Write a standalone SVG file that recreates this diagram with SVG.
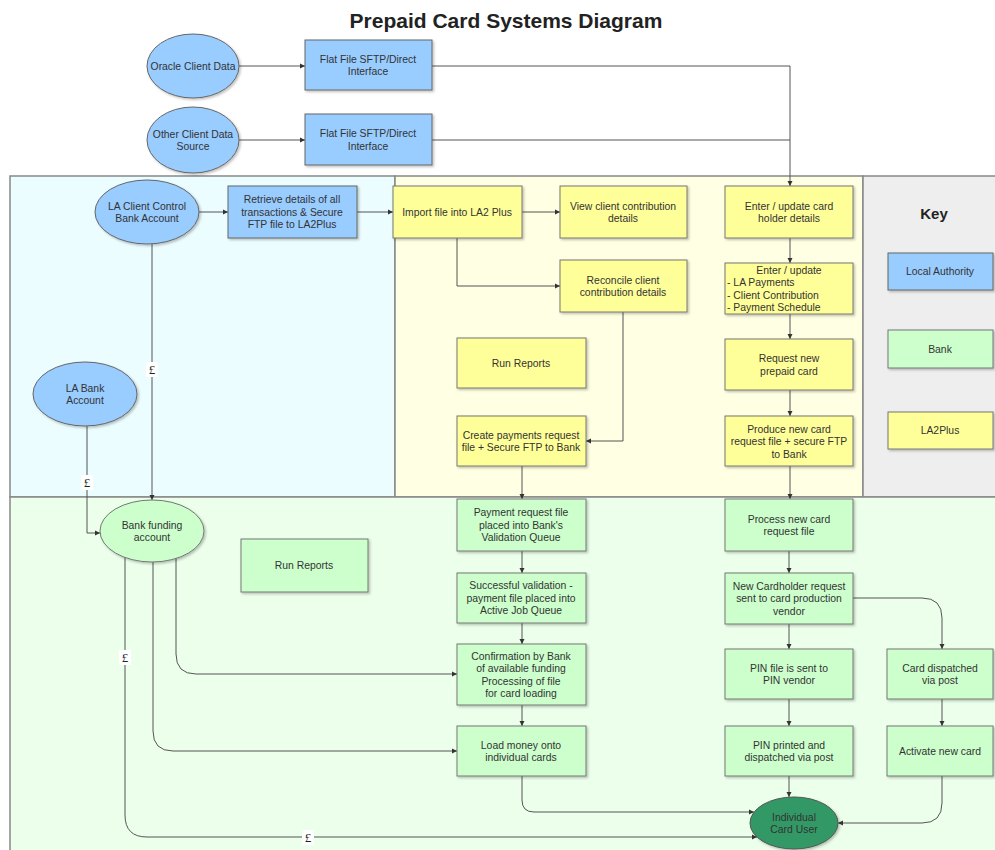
<svg xmlns="http://www.w3.org/2000/svg" width="995" height="850" viewBox="0 0 995 850">
<defs>
<marker id="ah" markerWidth="6" markerHeight="6" refX="5" refY="3" orient="auto" markerUnits="userSpaceOnUse">
<path d="M0,0.5 L5,3 L0,5.5 z" fill="#333"/>
</marker>
<filter id="sh" x="-10%" y="-10%" width="130%" height="130%">
<feDropShadow dx="1.5" dy="1.5" stdDeviation="0.8" flood-color="#000" flood-opacity="0.25"/>
</filter>
<style>
text{font-family:"Liberation Sans",Arial,sans-serif;font-size:10.4px;fill:#333;text-anchor:middle}
.title{font-size:21px;font-weight:bold;fill:#222}
.key{font-size:15px;font-weight:bold;fill:#222}
.st{text-anchor:start}
.lb{fill:#99ccff;stroke:#666;stroke-width:1;filter:url(#sh)}
.ly{fill:#ffff99;stroke:#777;stroke-width:1;filter:url(#sh)}
.lg{fill:#ccffcc;stroke:#777;stroke-width:1;filter:url(#sh)}
.dg{fill:#339966;stroke:#555;stroke-width:1;filter:url(#sh)}
.lane{stroke:#888;stroke-width:1.5}
.c{fill:none;stroke:#555;stroke-width:1}
.ca{fill:none;stroke:#555;stroke-width:1;marker-end:url(#ah)}
.pound{font-family:"Liberation Serif",serif;font-size:13px;fill:#222}
.pbg{fill:#fff}
</style>
</defs>
<rect width="995" height="850" fill="#fff"/>
<g id="lanes">
<rect class="lane" x="10" y="176" width="385" height="321" fill="#ebfdff"/>
<rect class="lane" x="395" y="176" width="468" height="321" fill="#ffffe3"/>
<rect class="lane" x="863" y="176" width="140" height="321" fill="#eeeeee"/>
<rect class="lane" x="10" y="497" width="993" height="360" fill="#ebffeb"/>
</g>
<text class="title" x="506" y="28">Prepaid Card Systems Diagram</text>
<g id="connectors">
<path class="ca" d="M239,66 H305"/>
<path class="ca" d="M239,140 H305"/>
<path class="ca" d="M432,66 H790 V186"/>
<path class="c" d="M432,140 H790"/>
<path class="ca" d="M199,212 H228"/>
<path class="ca" d="M357,212 H393"/>
<path class="ca" d="M522,212 H560"/>
<path class="ca" d="M457,238 V286 H560"/>
<path class="ca" d="M623,312 V441 H586"/>
<path class="ca" d="M522,466 V499"/>
<path class="ca" d="M790,238 V263"/>
<path class="ca" d="M790,314 V339"/>
<path class="ca" d="M790,390 V416"/>
<path class="ca" d="M790,466 V499"/>
<path class="ca" d="M152,244 V500"/>
<path class="ca" d="M87,426 V533 H100"/>
<path class="ca" d="M125,557 V815 Q125,837 147,837 H757"/>
<path class="ca" d="M153,562 V731 Q153,751 173,751 H457"/>
<path class="ca" d="M176,558 V654 Q176,674 196,674 H457"/>
<path class="ca" d="M522,551 V573"/>
<path class="ca" d="M522,623 V644"/>
<path class="ca" d="M522,705 V726"/>
<path class="ca" d="M522,776 V800 Q522,812 534,812 H754"/>
<path class="ca" d="M789,551 V573"/>
<path class="ca" d="M789,624 V649"/>
<path class="ca" d="M789,699 V726"/>
<path class="ca" d="M789,776 V797"/>
<path class="ca" d="M853,598 H922 Q942,598 942,618 V649"/>
<path class="ca" d="M942,699 V726"/>
<path class="ca" d="M942,776 V803 Q942,823 922,823 H838"/>
<rect class="pbg" x="146" y="362" width="12" height="15"/>
<text class="pound" x="152" y="374">£</text>
<rect class="pbg" x="81" y="475" width="12" height="15"/>
<text class="pound" x="87" y="487">£</text>
<rect class="pbg" x="119" y="650" width="12" height="15"/>
<text class="pound" x="125" y="662">£</text>
<rect class="pbg" x="302" y="830" width="12" height="15"/>
<text class="pound" x="308" y="842">£</text>
</g>
<g id="oracle"><ellipse class="lb" cx="193" cy="66" rx="46" ry="32"/><text x="193" y="69.7">Oracle Client Data</text></g>
<g id="flat1"><rect class="lb" x="305" y="40" width="127" height="50"/><text x="368" y="62.5">Flat File SFTP/Direct</text><text x="368" y="75">Interface</text></g>
<g id="other"><ellipse class="lb" cx="193" cy="140" rx="46" ry="33"/><text x="193" y="137.5">Other Client Data</text><text x="193" y="150">Source</text></g>
<g id="flat2"><rect class="lb" x="305" y="114" width="127" height="51"/><text x="368" y="137">Flat File SFTP/Direct</text><text x="368" y="149.5">Interface</text></g>
<g id="laclient"><ellipse class="lb" cx="147" cy="212" rx="52" ry="32"/><text x="147" y="209.5">LA Client Control</text><text x="147" y="222">Bank Account</text></g>
<g id="retrieve"><rect class="lb" x="228" y="186" width="129" height="52"/><text x="292" y="203.2">Retrieve details of all</text><text x="292" y="215.7">transactions &amp; Secure</text><text x="292" y="228.2">FTP file to LA2Plus</text></g>
<g id="labank"><ellipse class="lb" cx="85" cy="394" rx="52" ry="32"/><text x="85" y="391.5">LA Bank</text><text x="85" y="404">Account</text></g>
<g id="import"><rect class="ly" x="393" y="186" width="129" height="52"/><text x="457" y="215.7">Import file into LA2 Plus</text></g>
<g id="view"><rect class="ly" x="560" y="186" width="127" height="52"/><text x="623" y="209.5">View client contribution</text><text x="623" y="222">details</text></g>
<g id="enter"><rect class="ly" x="725" y="186" width="128" height="52"/><text x="789" y="209.5">Enter / update card</text><text x="789" y="222">holder details</text></g>
<g id="reconcile"><rect class="ly" x="560" y="260" width="127" height="52"/><text x="623" y="283.5">Reconcile client</text><text x="623" y="296">contribution details</text></g>
<g id="enterlist"><rect class="ly" x="725" y="263" width="128" height="51"/><text x="789" y="273.5">Enter / update</text><text class="st" x="727" y="286">- LA Payments</text><text class="st" x="727" y="298.5">- Client Contribution</text><text class="st" x="727" y="311">- Payment Schedule</text></g>
<g id="runreports1"><rect class="ly" x="457" y="338" width="129" height="50"/><text x="521" y="366.7">Run Reports</text></g>
<g id="request"><rect class="ly" x="725" y="339" width="128" height="51"/><text x="789" y="362">Request new</text><text x="789" y="374.5">prepaid card</text></g>
<g id="create"><rect class="ly" x="457" y="416" width="129" height="50"/><text x="521" y="438.5">Create payments request</text><text x="521" y="451">file + Secure FTP to Bank</text></g>
<g id="produce"><rect class="ly" x="725" y="416" width="128" height="50"/><text x="789" y="432.5">Produce new card</text><text x="789" y="445">request file + secure FTP</text><text x="789" y="457.5">to Bank</text></g>
<g id="keybox"><text class="key" x="934" y="219">Key</text>
<rect class="lb" x="888" y="253" width="105" height="37"/><text x="940" y="275.2">Local Authority</text>
<rect class="lg" x="888" y="330" width="105" height="38"/><text x="940" y="352.7">Bank</text>
<rect class="ly" x="888" y="412" width="105" height="37"/><text x="940" y="434.2">LA2Plus</text></g>
<g id="bankfunding"><ellipse class="lg" cx="152" cy="531" rx="52" ry="31"/><text x="152" y="528.5">Bank funding</text><text x="152" y="541">account</text></g>
<g id="runreports2"><rect class="lg" x="241" y="539" width="127" height="53"/><text x="304" y="569.2">Run Reports</text></g>
<g id="payreq"><rect class="lg" x="457" y="499" width="129" height="52"/><text x="521" y="516.2">Payment request file</text><text x="521" y="528.7">placed into Bank's</text><text x="521" y="541.2">Validation Queue</text></g>
<g id="success"><rect class="lg" x="457" y="573" width="129" height="50"/><text x="521" y="589.2">Successful validation -</text><text x="521" y="601.7">payment file placed into</text><text x="521" y="614.2">Active Job Queue</text></g>
<g id="confirm"><rect class="lg" x="457" y="644" width="129" height="61"/><text x="521" y="659.5">Confirmation by Bank</text><text x="521" y="672">of available funding</text><text x="521" y="684.5">Processing of file</text><text x="521" y="697">for card loading</text></g>
<g id="loadmoney"><rect class="lg" x="457" y="726" width="129" height="50"/><text x="521" y="748.5">Load money onto</text><text x="521" y="761">individual cards</text></g>
<g id="process"><rect class="lg" x="725" y="499" width="128" height="52"/><text x="789" y="522.5">Process new card</text><text x="789" y="535">request file</text></g>
<g id="newcard"><rect class="lg" x="725" y="573" width="128" height="51"/><text x="789" y="589.7">New Cardholder request</text><text x="789" y="602.2">sent to card production</text><text x="789" y="614.7">vendor</text></g>
<g id="pinfile"><rect class="lg" x="725" y="649" width="128" height="50"/><text x="789" y="671.5">PIN file is sent to</text><text x="789" y="684">PIN vendor</text></g>
<g id="pinprinted"><rect class="lg" x="725" y="726" width="128" height="50"/><text x="789" y="748.5">PIN printed and</text><text x="789" y="761">dispatched via post</text></g>
<g id="dispatched"><rect class="lg" x="887" y="649" width="106" height="50"/><text x="940" y="671.5">Card dispatched</text><text x="940" y="684">via post</text></g>
<g id="activate"><rect class="lg" x="887" y="726" width="106" height="50"/><text x="940" y="754.7">Activate new card</text></g>
<g id="carduser"><ellipse class="dg" cx="794" cy="823" rx="44" ry="26"/><text x="794" y="820.5">Individual</text><text x="794" y="833">Card User</text></g>
</svg>
